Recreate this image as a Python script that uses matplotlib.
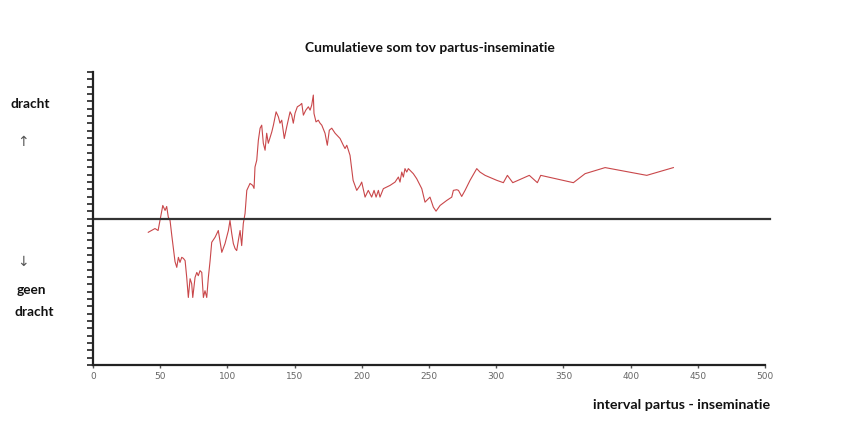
import matplotlib
matplotlib.use("Agg")
import matplotlib.pyplot as plt
import numpy as np

# Data (interval partus-inseminatie, cumulative sum)
x_seg1 = [41.1, 46.1, 48.4, 51.9, 53.6, 54.8, 56.0, 57.3, 58.6, 59.7,
          61.0, 62.3, 63.5, 64.7, 66.0, 67.2, 68.5, 69.7, 70.9, 72.2,
          73.4, 74.2, 75.9, 77.2, 78.3, 79.6, 80.9, 82.1, 83.3, 84.6,
          85.8, 87.1, 88.3, 90.8, 93.2, 95.8, 98.2, 100.7, 101.9, 103.2,
          104.4, 105.7, 106.9, 108.1, 109.4, 110.6, 111.8, 113.1]
y_seg1 = [-1.88, -1.37, -1.64, 1.78, 1.10, 1.64, 0.18, -0.27, -2.33, -3.93,
          -5.89, -6.67, -5.30, -5.99, -5.30, -5.44, -5.75, -8.04, -10.78, -8.22,
          -8.90, -10.78, -8.04, -7.36, -7.81, -7.12, -7.36, -10.78, -9.86, -10.78,
          -8.04, -5.75, -3.25, -2.56, -1.64, -4.62, -3.42, -1.64, -0.27, -2.05,
          -3.42, -4.11, -4.38, -3.01, -1.64, -3.70, -0.68, 0.68]

x_seg2 = [114.4, 116.8, 118.8, 119.8, 120.5, 121.8, 123.0, 124.3, 125.5, 126.7,
          128.0, 129.2, 130.4, 133.0, 134.2, 136.2, 137.9, 139.1, 140.4, 142.3,
          144.1, 146.6, 147.8, 149.0, 150.3, 152.0, 154.0, 155.3, 156.5, 158.3,
          160.2, 161.5, 162.7, 163.9, 164.4, 165.9, 167.6, 168.9, 170.2, 172.6,
          174.3, 175.8, 177.6, 180.1, 183.8, 186.2, 187.5, 188.8, 191.2]
y_seg2 = [3.84, 4.79, 4.52, 4.11, 7.03, 7.95, 10.68, 12.33, 12.74, 10.27,
          9.32, 11.64, 10.27, 11.82, 12.74, 14.56, 13.88, 13.01, 13.42, 10.92,
          12.51, 14.56, 14.11, 13.01, 14.38, 15.25, 15.48, 15.71, 14.11, 14.79,
          15.25, 14.79, 15.48, 16.85, 14.34, 13.19, 13.42, 13.01, 12.74, 11.64,
          10.0, 12.05, 12.33, 11.64, 10.92, 10.0, 9.55, 10.0, 8.63]

x_seg3 = [193.5, 196.2, 198.7, 199.9, 202.4, 204.8, 207.3, 209.1, 210.6, 212.3, 213.5, 216.0,
          221.0, 224.7, 227.2, 228.4, 229.7, 230.9, 232.1, 233.4, 234.6,
          238.3, 240.8, 244.6, 247.0, 249.5, 250.7, 253.2, 255.2, 258.2,
          263.2, 266.9, 268.1, 270.6, 271.9, 274.3, 276.8, 280.5, 285.5, 287.9, 291.7,
          300.4, 305.3, 308.3, 312.3, 324.6, 330.6, 333.1, 357.4, 366.1, 381.0, 412.0, 431.8]
y_seg3 = [5.21, 3.84, 4.52, 4.97, 2.92, 3.84, 2.92, 3.84, 2.92, 3.84, 2.92, 4.07,
          4.52, 4.97, 5.66, 4.97, 6.34, 5.66, 6.81, 6.34, 6.81,
          6.12, 5.44, 4.07, 2.23, 2.70, 2.92, 1.55, 1.0, 1.78,
          2.47, 2.92, 3.84, 3.93, 3.84, 3.01, 3.84, 5.21, 6.81, 6.34, 5.89,
          5.21, 4.89, 5.89, 4.89, 5.89, 4.89, 5.89, 4.89, 6.12, 6.95, 5.89, 6.95]

x_vals = x_seg1 + x_seg2 + x_seg3
y_vals = y_seg1 + y_seg2 + y_seg3

x_ticks = [0, 50, 100, 150, 200, 250, 300, 350, 400, 450, 500]
title = "Cumulatieve som tov partus-inseminatie"
xlabel = "interval partus - inseminatie"

fig = plt.figure(figsize=(8.42, 4.35), dpi=100)
ax = fig.add_axes([0.1105, 0.1586, 0.7981, 0.6736])

ax.plot(x_vals, y_vals, color="#c9474a", lw=0.8)
ax.axhline(0, color="#333333", lw=1.6, xmin=0, xmax=1.008, clip_on=False)

ax.set_xlim(0, 500)
ax.set_ylim(-20, 20)
ax.set_xticks(x_ticks)
ax.set_xticklabels([str(t) for t in x_ticks], fontsize=6.5, color="#666666")
ax.set_yticks(np.arange(-20, 21, 1))
ax.set_yticklabels([])
ax.tick_params(axis="y", length=4, width=1.2, direction="out", color="#222222")
ax.tick_params(axis="x", length=2, width=1, color="#555555", pad=2)

for s in ["top", "right"]:
    ax.spines[s].set_visible(False)
for s in ["left", "bottom"]:
    ax.spines[s].set_linewidth(1.6)
    ax.spines[s].set_color("#222222")

bold = dict(family=["Lato", "DejaVu Sans"], fontweight="bold", color="#111111")
fig.text(0.511, 0.889, title, ha="center", va="center", fontsize=10, **bold)
fig.text(0.915, 0.069, xlabel, ha="right", va="center", fontsize=10.3, **bold)
fig.text(0.013, 0.761, "dracht", ha="left", va="center", fontsize=9.8, **bold)
fig.text(0.027, 0.673, "\u2191", ha="center", va="center", fontsize=10,
         family=["DejaVu Sans"], color="#555555")
fig.text(0.027, 0.397, "\u2193", ha="center", va="center", fontsize=10,
         family=["DejaVu Sans"], color="#555555")
fig.text(0.020, 0.334, "geen", ha="left", va="center", fontsize=9.8, **bold)
fig.text(0.017, 0.283, "dracht", ha="left", va="center", fontsize=9.8, **bold)

fig.savefig("out.png", dpi=100, facecolor="white")
